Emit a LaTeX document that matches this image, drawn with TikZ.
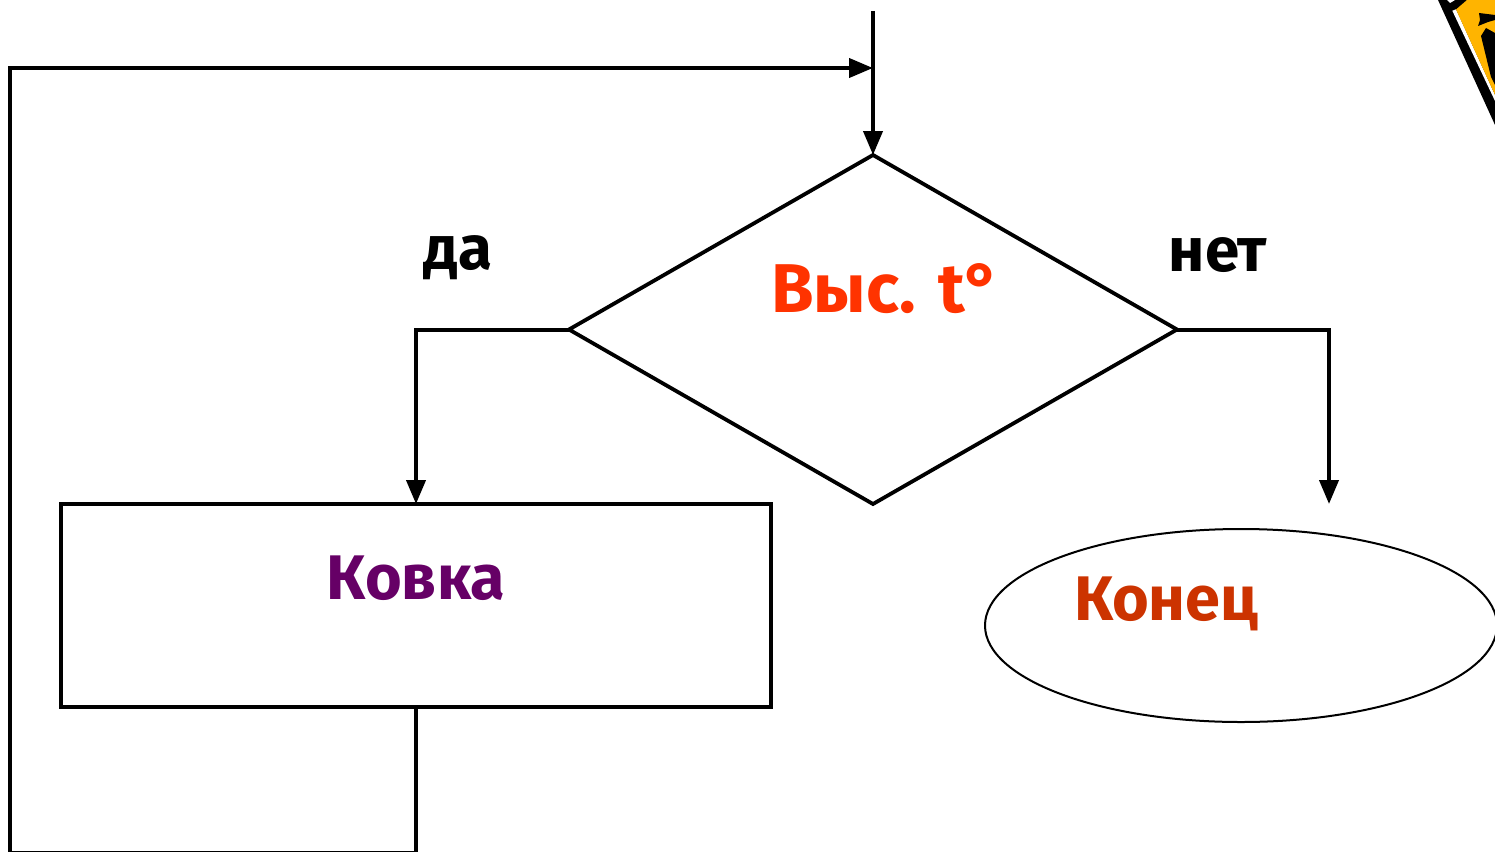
\documentclass[tikz,border=0pt]{standalone}
\usepackage{fontspec}
\setmainfont{Fira Sans}
\usetikzlibrary{arrows.meta,shapes.geometric}
\definecolor{signyellow}{HTML}{FFB400}
\definecolor{condcolor}{HTML}{FF3300}
\definecolor{forgecolor}{HTML}{660066}
\definecolor{finishcolor}{HTML}{CC3300}
\tikzset{x=1pt, y=-1pt,
    flow line/.style={draw=black, line width=4pt},
    flow arrow/.style={flow line, -{Triangle[length=24pt,width=19pt]}},
    decision box/.style={diamond, draw=black, line width=3.8pt, minimum width=608pt,
        minimum height=349pt, inner sep=0pt, outer sep=0pt},
    action box/.style={rectangle, draw=black, line width=3.8pt, minimum width=710pt,
        minimum height=203pt, inner sep=0pt, outer sep=0pt},
    end box/.style={ellipse, draw=black, line width=2pt, minimum width=512pt,
        minimum height=193pt, inner sep=0pt, outer sep=0pt},
    box text/.style={font=\fontsize{63}{70}\selectfont\bfseries, inner sep=0pt},
    branch text/.style={font=\fontsize{62}{66}\selectfont\bfseries, inner sep=0pt}
    }
\begin{document}
\begin{tikzpicture}
\useasboundingbox (0,0) rectangle (1495,851);
\fill[white] (0,0) rectangle (1495,851);
% shapes
\node (Cond) [decision box] at (873,329.5) {};
\node (Forge) [action box] at (416,605.5) {};
\node (Finish) [end box] at (1241,625.5) {};
% texts
\node (CondText) [box text, font=\fontsize{69}{72}\selectfont\bfseries, text=condcolor] at (886,289) {Выс. t°};
\node (ForgeText) [box text, text=forgecolor] at (416,578) {Ковка};
\node (FinishText) [box text, text=finishcolor] at (1166,604) {Конец};
\node (YesText) [branch text] at (458,258) {да};
\node (NoText) [branch text] at (1218,255) {нет};
% free ends
\coordinate (Start) at (873,11);
\coordinate (Merge) at (873,68);
\coordinate (BackTop) at (10,68);
\coordinate (BackBottom) at (10,852.6);
\coordinate (NoEnd) at (1329,504);
% connectors
\draw[flow arrow] (Start) -- (Cond.north);
\draw[flow arrow] (Cond.west) -| (Forge.north);
\draw[flow arrow] (Cond.east) -| (NoEnd);
\draw[flow arrow] (Forge.south) |- (BackBottom) -- (BackTop) -- (Merge);
% corner of the sign
\fill[black] (1438,0) -- (1495,125) -- (1495,0) -- cycle;
\fill[white] (1447,0) -- (1455,0) -- (1450,3) -- cycle;
\fill[white] (1452.3,10.7) -- (1456,9.3) -- (1495,95) -- (1495,101) -- cycle;
\fill[signyellow] (1456,9.5) -- (1467,0) -- (1495,0) -- (1495,95) -- cycle;
\fill[black] (1479,13) -- (1495,15) -- (1495,20) -- (1488,22) -- (1478,26) -- (1480,20) -- cycle;
\fill[black] (1481,36) -- (1486,28) -- (1495,33) -- (1495,85) -- (1491,77) -- cycle;
\end{tikzpicture}
\end{document}
